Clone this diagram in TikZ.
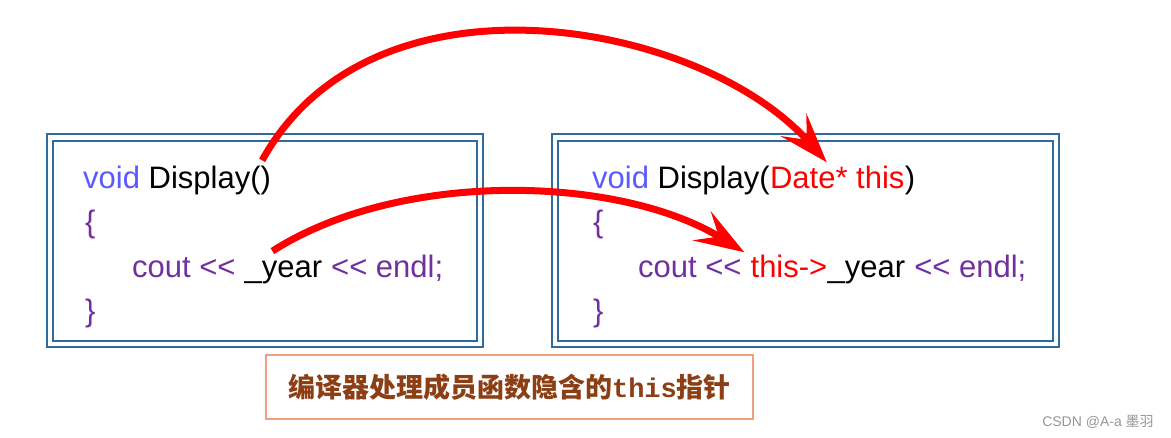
\documentclass[tikz,border=0pt]{standalone}
\usepackage{fontspec}
\setmainfont{Liberation Sans}
\newfontfamily\cjk{Noto Sans CJK SC}
\newfontfamily\monof{Liberation Mono}
\usetikzlibrary{arrows.meta,calc}
\definecolor{boxblue}{RGB}{46,108,160}
\definecolor{kwblue}{RGB}{90,90,255}
\definecolor{cpurple}{RGB}{112,48,160}
\definecolor{cred}{RGB}{255,0,0}
\definecolor{lblborder}{RGB}{240,160,130}
\definecolor{lbltext}{RGB}{140,62,20}
\definecolor{wmgray}{RGB}{150,150,150}
\begin{document}
\begin{tikzpicture}[x=1pt,y=-1pt,
  code/.style={inner sep=0pt, anchor=base west, font=\fontsize{31}{37}\selectfont},
  frameline/.style={draw=boxblue, line width=2.5pt},
  ptr/.style={draw=cred, line width=7pt, line cap=butt,
    -{Stealth[length=50pt,width=34pt,inset=20pt]}},
  lblbox/.style={draw=lblborder, line width=1.5pt, inner sep=0pt,
    minimum width=487pt, minimum height=64pt, text=lbltext,
    font=\fontsize{27}{32}\selectfont\bfseries}
]
\useasboundingbox (0,0) rectangle (1171,437);
\fill[white] (0,0) rectangle (1171,437);

% frames
\draw[frameline] (47,134) rectangle (483,347);
\draw[frameline] (53,141) rectangle (477,341);
\draw[frameline] (552,134) rectangle (1059,347);
\draw[frameline] (558,141) rectangle (1053,341);

% left code
\node[code] (l1) at (83,188) {\textcolor{kwblue}{void} Display()};
\node[code,text=cpurple] (l2) at (85,232) {\{};
\node[code,text=cpurple] (l3a) at (132,277) {cout <{}<\kern0.278em};
\node[code] (lyear) at (l3a.base east) {\_year};
\node[code,text=cpurple] (l3c) at (lyear.base east) {\ <{}< endl;};
\node[code,text=cpurple] (l4) at (85,321) {\}};

% right code
\node[code] (r1a) at (592,188) {\textcolor{kwblue}{void} Display(};
\node[code,text=cred] (rdate) at (r1a.base east) {Date* this};
\node[code] (r1c) at (rdate.base east) {)};
\node[code,text=cpurple] (r2) at (593,232) {\{};
\node[code,text=cpurple] (r3a) at (638,277) {cout <{}<\kern0.278em};
\node[code,text=cred] (rthis) at (r3a.base east) {this->};
\node[code] (ryear) at (rthis.base east) {\_year};
\node[code,text=cpurple] (r3d) at (ryear.base east) {\ <{}< endl;};
\node[code,text=cpurple] (r4) at (593,321) {\}};

% label
\node[lblbox] (lbl) at (509.5,387) {{\cjk 编译器处理成员函数隐含的}{\monof this}{\cjk 指针}};

% watermark
\node[text=wmgray, font=\fontsize{14}{16}\selectfont, inner sep=0pt] (wm) at (1098,422) {CSDN @A-a {\cjk 墨羽}};

% arrows
\draw[ptr] ($(l1.north east)+(-9,-5)$) .. controls +(110,-200) and +(-126,-142) .. ($(rdate.north west)+(57,-3)$);
\draw[ptr] ($(lyear.north west)+(28,-9)$) .. controls +(128,-82) and +(-124,-77) .. ($(rthis.north west)+(-6,-2)$);
\end{tikzpicture}
\end{document}
